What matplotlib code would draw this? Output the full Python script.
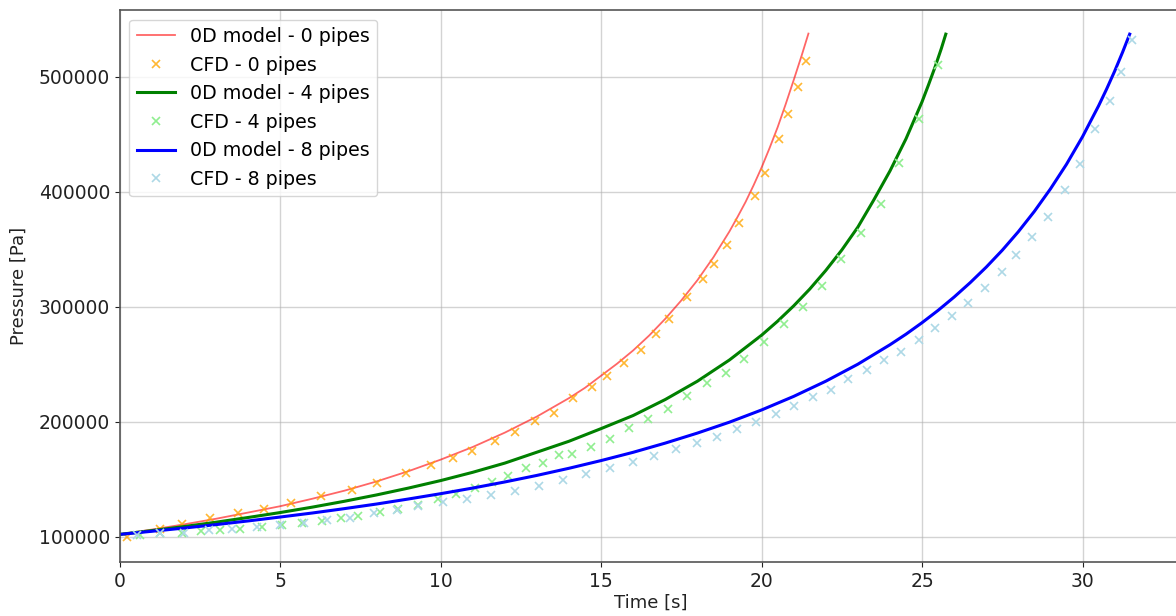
import matplotlib
matplotlib.use("Agg")
import matplotlib.pyplot as plt

# ---- 0D model curves ----
t_0d_0 = [0, 1, 2, 3, 4, 5, 6, 7, 8, 9, 10, 11, 12, 13, 14, 14.5, 15, 15.5, 16,
          16.5, 17, 17.5, 18, 18.5, 19, 19.25, 19.5, 19.75, 20, 20.25, 20.5,
          20.75, 21, 21.25, 21.46]
p_0d_0 = [102000, 106200, 110700, 115600, 121000, 126500, 133000, 140000, 148000,
          157000, 167000, 178000, 190500, 204500, 220500, 229500, 240000, 250500,
          262000, 275000, 289500, 305500, 323000, 343000, 365500, 378000, 391000,
          405500, 421000, 438000, 456000, 476000, 497000, 518500, 537500]

t_0d_4 = [0, 1, 2, 3, 4, 5, 6, 7, 8, 9, 10, 11, 12, 13, 14, 15, 16, 17, 18, 19,
          20, 20.5, 21, 21.5, 22, 22.5, 23, 23.5, 24, 24.5, 25, 25.2, 25.4, 25.6,
          25.74]
p_0d_4 = [102000, 105300, 108800, 112600, 116700, 121000, 125700, 130800, 136300,
          142300, 148800, 156000, 164000, 173500, 183000, 194000, 205400, 219300,
          235200, 253700, 275200, 287400, 300700, 315300, 331500, 349300, 369200,
          393000, 418000, 446000, 478200, 492800, 508000, 524400, 537000]

t_0d_8 = [0, 1, 2, 3, 4, 5, 6, 7, 8, 9, 10, 11, 12, 13, 14, 15, 16, 17, 18, 19,
          20, 21, 22, 23, 24, 24.5, 25, 25.5, 26, 26.5, 27, 27.5, 28, 28.5, 29,
          29.5, 30, 30.5, 30.75, 31, 31.25, 31.47]
p_0d_8 = [102000, 104700, 107500, 110500, 113700, 117100, 120600, 124400, 128400,
          132800, 137400, 142300, 147600, 153300, 159500, 166200, 173400, 181400,
          190100, 199600, 210200, 222000, 235200, 250000, 266900, 276100, 286100,
          296800, 308400, 320900, 334400, 349100, 365200, 382900, 402400, 423800,
          447800, 474600, 489200, 504700, 521400, 537000]

# ---- CFD points ----
t_cfd_0 = [0.22, 1.27, 1.94, 2.82, 3.70, 4.51, 5.35, 6.27, 7.24, 8.02, 8.91, 9.69,
           10.37, 10.97, 11.69, 12.32, 12.93, 13.52, 14.11, 14.72, 15.19, 15.71,
           16.23, 16.71, 17.12, 17.68, 18.16, 18.51, 18.91, 19.30, 19.78, 20.11,
           20.54, 20.82, 21.14, 21.38]
p_cfd_0 = [100000, 106500, 111300, 116400, 120600, 124300, 129000, 135400, 140300,
           146500, 155700, 162300, 168400, 174800, 183500, 191300, 200900, 207800,
           220300, 230200, 239700, 250800, 262300, 276000, 289000, 308200, 324300,
           337100, 353700, 373000, 396300, 416500, 445800, 467600, 490800, 513900]

t_cfd_4 = [0.64, 1.27, 1.94, 2.54, 3.13, 3.76, 4.43, 5.05, 5.68, 6.30, 6.90, 7.44,
           8.11, 8.68, 9.30, 9.93, 10.48, 11.07, 11.59, 12.11, 12.66, 13.18, 13.70,
           14.08, 14.67, 15.27, 15.88, 16.47, 17.09, 17.68, 18.29, 18.88, 19.45,
           20.08, 20.69, 21.29, 21.89, 22.48, 23.09, 23.71, 24.29, 24.90, 25.51]
p_cfd_4 = [101500, 103000, 103500, 105000, 105800, 106700, 108100, 110000, 112200,
           113900, 116000, 118000, 121200, 123800, 127600, 132500, 136900, 142100,
           147800, 153000, 159500, 163800, 170800, 172200, 178300, 184700, 194800,
           202100, 211300, 222300, 233400, 242300, 254700, 269000, 284700, 300000,
           318300, 341500, 363800, 389300, 424700, 463500, 509900]

t_cfd_8 = [0.55, 1.27, 1.99, 2.77, 3.50, 4.28, 5.00, 5.73, 6.46, 7.18, 7.91, 8.63,
           9.30, 10.08, 10.81, 11.56, 12.31, 13.06, 13.80, 14.53, 15.27, 15.98,
           16.65, 17.33, 17.99, 18.62, 19.22, 19.84, 20.46, 21.01, 21.59, 22.16,
           22.70, 23.27, 23.81, 24.33, 24.89, 25.41, 25.93, 26.44, 26.96, 27.48,
           27.94, 28.44, 28.94, 29.45, 29.92, 30.39, 30.87, 31.19, 31.53]
p_cfd_8 = [101500, 102800, 103500, 105800, 106700, 108100, 110200, 112000, 114500,
           116500, 120800, 123200, 126700, 129900, 132800, 136000, 140000, 144100,
           149300, 154300, 159500, 165200, 170200, 176000, 181700, 187000, 193700,
           200000, 206500, 213700, 221200, 228000, 237000, 244600, 253700, 260900,
           271000, 281200, 292000, 303000, 316500, 329900, 345000, 360300, 378300,
           401500, 424100, 454300, 478600, 503800, 531900]

labels = ["0D model - 0 pipes", "CFD - 0 pipes", "0D model - 4 pipes",
          "CFD - 4 pipes", "0D model - 8 pipes", "CFD - 8 pipes"]

W, H = 1176, 616
fig = plt.figure(figsize=(W / 100, H / 100), dpi=100)
left, right, top, bottom = 119.7, 1182, 10, 562
ax = fig.add_axes([left / W, (H - bottom) / H, (right - left) / W, (bottom - top) / H])

ax.plot(t_0d_0, p_0d_0, color="red", alpha=0.6, lw=1.3, label=labels[0])
ax.plot(t_cfd_0, p_cfd_0, ls="none", marker="x", ms=6, mew=1.2,
        color="orange", alpha=0.8, label=labels[1])
ax.plot(t_0d_4, p_0d_4, color="green", lw=2.2, label=labels[2])
ax.plot(t_cfd_4, p_cfd_4, ls="none", marker="x", ms=6, mew=1.2,
        color="lightgreen", label=labels[3])
ax.plot(t_0d_8, p_0d_8, color="blue", lw=2.2, label=labels[4])
ax.plot(t_cfd_8, p_cfd_8, ls="none", marker="x", ms=6, mew=1.2,
        color="lightblue", label=labels[5])

ax.set_xlim(0, 33.1)
ax.set_ylim(78000, 558000)
ax.set_xticks([0, 5, 10, 15, 20, 25, 30])
ax.set_yticks([100000, 200000, 300000, 400000, 500000])
ax.ticklabel_format(style="plain", axis="y")
ax.grid(True, color="#b0b0b0", alpha=0.55, lw=1.0)
ax.tick_params(labelsize=13.5, colors="#222222")
for s in ["left", "bottom", "top"]:
    ax.spines[s].set_color("#555555")
    ax.spines[s].set_linewidth(1.2)
ax.spines["right"].set_visible(False)

ax.set_xlabel("Time [s]", fontsize=13, color="#222222", labelpad=2)
ax.set_ylabel("Pressure [Pa]", fontsize=13, color="#222222", labelpad=8)
ax.legend(loc="upper left", fontsize=13.7, handlelength=2.0,
          borderaxespad=0.5, labelspacing=0.5)

fig.savefig("out.png", dpi=100)
